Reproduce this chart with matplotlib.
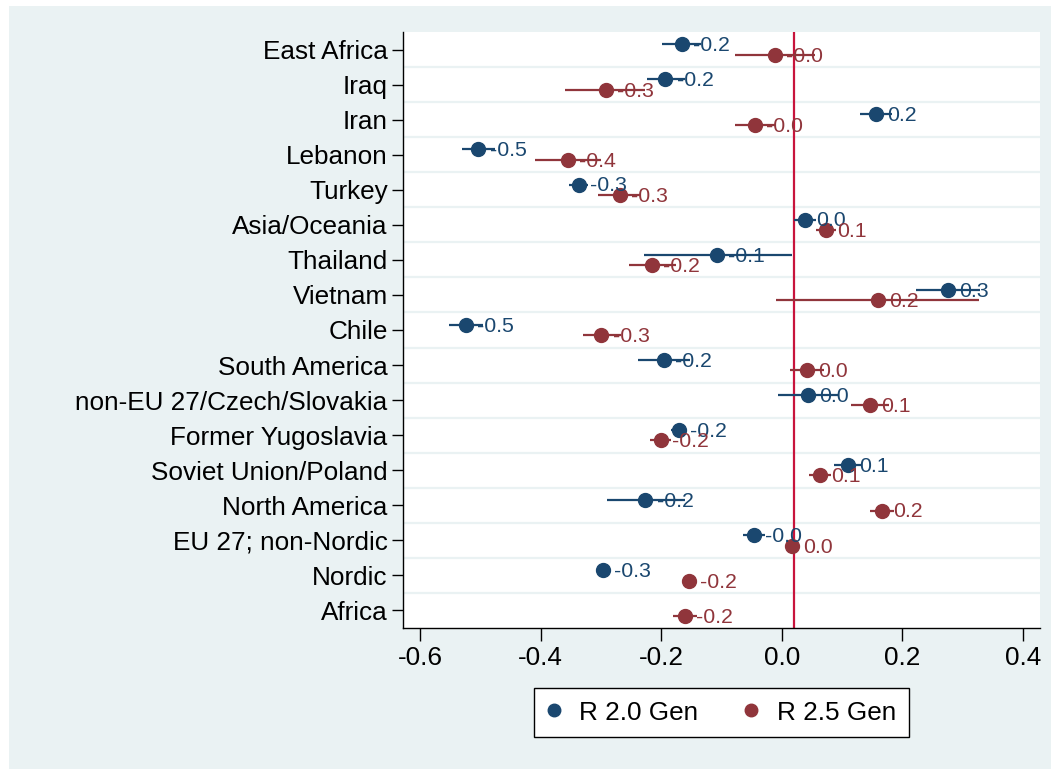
import numpy as np
import matplotlib
matplotlib.use("Agg")
import matplotlib.pyplot as plt
from matplotlib.patches import Rectangle
from matplotlib.lines import Line2D

plt.rcParams['font.family'] = ['Liberation Sans', 'DejaVu Sans']

countries = ["East Africa", "Iraq", "Iran", "Lebanon", "Turkey", "Asia/Oceania",
             "Thailand", "Vietnam", "Chile", "South America",
             "non-EU 27/Czech/Slovakia", "Former Yugoslavia", "Soviet Union/Poland",
             "North America", "EU 27; non-Nordic", "Nordic", "Africa"]

# R 2.0 Gen (Africa not estimated)
b20 = [-0.166, -0.193, 0.156, -0.503, -0.337, 0.038, -0.108, 0.276, -0.523, -0.196,
       0.043, -0.171, 0.110, -0.226, -0.046, -0.297, np.nan]
lo20 = [-0.198, -0.224, 0.129, -0.531, -0.352, 0.020, -0.229, 0.222, -0.551, -0.239,
        -0.007, -0.183, 0.086, -0.290, -0.065, -0.300, np.nan]
hi20 = [-0.134, -0.161, 0.183, -0.475, -0.322, 0.056, 0.017, 0.329, -0.495, -0.153,
        0.095, -0.159, 0.133, -0.161, -0.028, -0.294, np.nan]

# R 2.5 Gen
b25 = [-0.012, -0.292, -0.045, -0.355, -0.269, 0.073, -0.216, 0.159, -0.299, 0.041,
       0.146, -0.201, 0.063, 0.166, 0.017, -0.154, -0.161]
lo25 = [-0.078, -0.359, -0.078, -0.410, -0.304, 0.056, -0.254, -0.010, -0.330, 0.013,
        0.115, -0.219, 0.045, 0.146, 0.014, -0.156, -0.181]
hi25 = [0.055, -0.226, -0.012, -0.300, -0.234, 0.090, -0.176, 0.327, -0.267, 0.070,
        0.178, -0.183, 0.081, 0.186, 0.020, -0.152, -0.141]

ref_line = 0.02
xticks = [-0.6, -0.4, -0.2, 0.0, 0.2, 0.4]

navy = '#1A476F'
maroon = '#90353B'
bg = '#EAF2F3'

fig = plt.figure(figsize=(10.51, 7.69), dpi=100)
fig.patch.set_facecolor('white')
fig.add_artist(Rectangle((9 / 1051, 0), 1, 1 - 6 / 769, transform=fig.transFigure,
                         facecolor=bg, edgecolor='none', zorder=-10))

ax = fig.add_axes([403 / 1051, 1 - 628 / 769, 637 / 1051, 596 / 769])
ax.set_facecolor('white')

n = len(countries)
y = np.arange(n)
off = 0.15

for i in range(n - 1):
    ax.axhline(i + 0.5, color=bg, lw=1.6, zorder=1)

ax.axvline(ref_line, color='#C8143C', lw=1.6, zorder=2)

series = [(b20, lo20, hi20, navy, -off, 'R 2.0 Gen'),
          (b25, lo25, hi25, maroon, off, 'R 2.5 Gen')]
for b, lo, hi, col, dy, lab in series:
    b = np.array(b); lo = np.array(lo); hi = np.array(hi)
    yy = y + dy
    ax.hlines(yy, lo, hi, color=col, lw=1.6, zorder=3)
    ax.plot(b, yy, 'o', color=col, ms=10, zorder=4, label=lab)
    for xv, yv in zip(b, yy):
        if np.isnan(xv):
            continue
        ax.annotate('%.1f' % xv, (xv, yv), xytext=(8.0, -1), textcoords='offset points',
                    va='center', ha='left', color=col, fontsize=15.3, zorder=5)

ax.set_xlim(-0.628, 0.428)
ax.set_ylim(n - 0.5, -0.5)
ax.set_xticks(xticks)
ax.set_xticklabels(['%.1f' % t for t in xticks], fontsize=18.8)
ax.set_yticks(y)
ax.set_yticklabels(countries, fontsize=18.8)
ax.tick_params(axis='x', length=9, width=1, pad=4)
ax.tick_params(axis='y', length=8, width=1, pad=3)
for s in ['top', 'right']:
    ax.spines[s].set_visible(False)
for s in ['left', 'bottom']:
    ax.spines[s].set_linewidth(1)

handles = [Line2D([], [], marker='o', ls='none', color=navy, ms=9),
           Line2D([], [], marker='o', ls='none', color=maroon, ms=9)]
leg = fig.legend(handles, ['R 2.0 Gen', 'R 2.5 Gen'], loc='center',
                 bbox_to_anchor=(721.5 / 1051, 1 - 712.5 / 769), ncol=2,
                 fontsize=18.8, frameon=True, fancybox=False, edgecolor='black',
                 facecolor='white', framealpha=1,
                 handletextpad=0.7, columnspacing=1.75, borderpad=0.48, handlelength=0.55)
leg.get_frame().set_linewidth(1)

fig.savefig('out.png', dpi=100)
